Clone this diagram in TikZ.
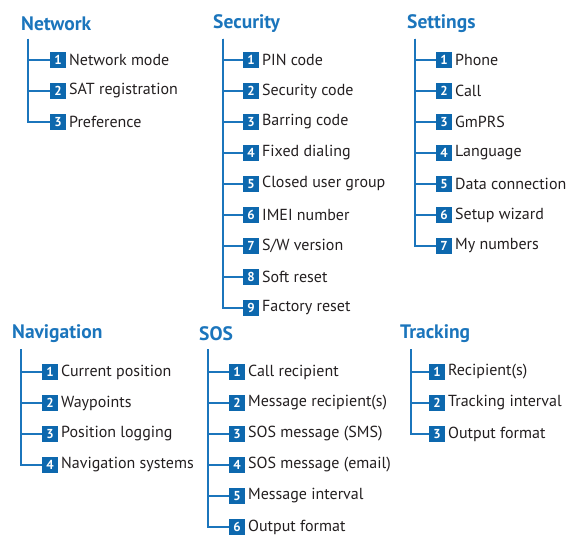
\documentclass[tikz,border=0pt]{standalone}
\usepackage{fontspec}
\setmainfont{PT Sans}
\usetikzlibrary{positioning}
\definecolor{MenuBlue}{HTML}{1B75BC}
\definecolor{MenuBox}{HTML}{0D68AE}
\definecolor{MenuText}{HTML}{231F20}
\tikzset{
  heading/.style={anchor=west,inner sep=0pt,font=\bfseries\fontsize{19.5}{20}\selectfont,text=MenuBlue},
  numbox/.style={fill=MenuBox,text=white,font=\bfseries\fontsize{13}{13}\selectfont,
    minimum size=16.5pt,inner sep=0pt},
  entry/.style={inner sep=0pt,font=\fontsize{16}{18}\selectfont,text=MenuText},
  branch/.style={draw=MenuBlue,line width=1.1pt}
}

\begin{document}
\begin{tikzpicture}[x=1pt,y=-1pt]
  \useasboundingbox (0,0) rectangle (581,545);
  % top row
  \node[heading] (net) at (21,24) {Network};
  \coordinate (netroot) at (28,39);
  \foreach \i/\txt in {1/Network mode,2/SAT registration,3/Preference}{
    \node[numbox] (net\i) at (58,29+31*\i) {\i};
    \node[entry,right=2.5pt of net\i] (net\i-t) {\txt};
    \draw[branch] (netroot) |- (net\i);
  }
  \node[heading] (sec) at (213,24) {Security};
  \coordinate (secroot) at (223,39);
  \foreach \i/\txt in {1/PIN code,2/Security code,3/Barring code,4/Fixed dialing,
      5/Closed user group,6/IMEI number,7/{S/W version},8/Soft reset,9/Factory reset}{
    \node[numbox] (sec\i) at (251,29+31*\i) {\i};
    \node[entry,right=2.5pt of sec\i] (sec\i-t) {\txt};
    \draw[branch] (secroot) |- (sec\i);
  }
  \node[heading] (set) at (407,24) {Settings};
  \coordinate (setroot) at (415,39);
  \foreach \i/\txt in {1/Phone,2/Call,3/GmPRS,4/Language,5/Data connection,
      6/Setup wizard,7/My numbers}{
    \node[numbox] (set\i) at (444,29+31*\i) {\i};
    \node[entry,right=2.5pt of set\i] (set\i-t) {\txt};
    \draw[branch] (setroot) |- (set\i);
  }
  % bottom row
  \node[heading] (nav) at (12,334) {Navigation};
  \coordinate (navroot) at (21,349);
  \foreach \i/\txt in {1/Current position,2/Waypoints,3/Position logging,4/Navigation systems}{
    \node[numbox] (nav\i) at (50,341+31*\i) {\i};
    \node[entry,right=2.5pt of nav\i] (nav\i-t) {\txt};
    \draw[branch] (navroot) |- (nav\i);
  }
  \node[heading] (sos) at (199,334) {SOS};
  \coordinate (sosroot) at (208,349);
  \foreach \i/\txt in {1/Call recipient,2/Message recipient(s),3/SOS message (SMS),
      4/SOS message (email),5/Message interval,6/Output format}{
    \node[numbox] (sos\i) at (237,341+31*\i) {\i};
    \node[entry,right=2.5pt of sos\i] (sos\i-t) {\txt};
    \draw[branch] (sosroot) |- (sos\i);
  }
  \node[heading] (trk) at (400,334) {Tracking};
  \coordinate (trkroot) at (411,349);
  \foreach \i/\txt in {1/Recipient(s),2/Tracking interval,3/Output format}{
    \node[numbox] (trk\i) at (437,341+31*\i) {\i};
    \node[entry,right=2.5pt of trk\i] (trk\i-t) {\txt};
    \draw[branch] (trkroot) |- (trk\i);
  }
\end{tikzpicture}
\end{document}
